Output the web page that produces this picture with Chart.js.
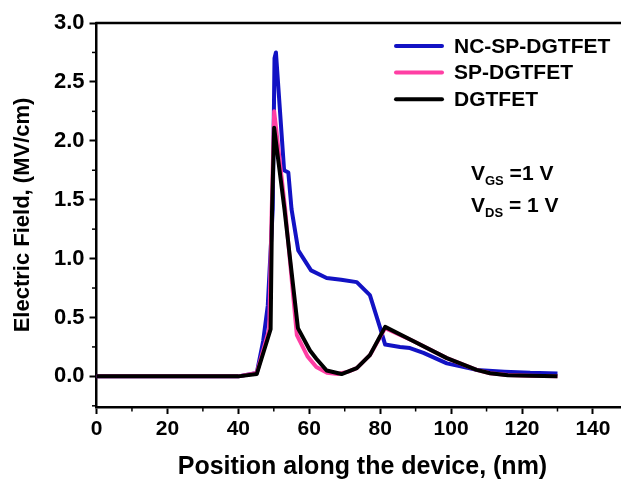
<!DOCTYPE html>
<html>
<head>
<meta charset="utf-8">
<script src="https://cdn.jsdelivr.net/npm/chart.js@4.4.0/dist/chart.umd.min.js"></script>
<style>
  html, body { margin: 0; padding: 0; background: #fff; overflow: hidden; }
  #wrap { width: 660px; height: 482px; }
</style>
</head>
<body>
<div id="wrap"><canvas id="efield" width="660" height="482"></canvas></div>
<script>
// ── Data ──────────────────────────────────────────────────

const NC_X = [0, 40, 45.2, 47.0, 48.3, 49.7, 50.2, 50.6, 52.9, 54.1, 55.0, 56.9, 60.5, 64.9, 69.0, 73.4, 77.1, 79.9, 81.4, 85.6, 88.4, 92.2, 98.8, 107.2, 115, 122.3, 130];
const NC_Y = [0, 0, 0.03, 0.30, 0.60, 1.42, 2.70, 2.75, 1.75, 1.73, 1.42, 1.07, 0.90, 0.835, 0.82, 0.80, 0.69, 0.42, 0.27, 0.25, 0.24, 0.20, 0.11, 0.055, 0.04, 0.03, 0.025];

const SP_X = [0, 40, 45.2, 48.7, 49.4, 50.1, 53.2, 56.5, 59.5, 62.0, 65.0, 68.0, 71.0, 73.4, 77.1, 81.4, 89.3, 98.8, 107.2, 111, 116, 122.3, 130];
const SP_Y = [0, 0, 0.03, 0.40, 1.40, 2.25, 1.42, 0.35, 0.17, 0.08, 0.03, 0.02, 0.04, 0.07, 0.18, 0.41, 0.30, 0.155, 0.055, 0.027, 0.012, 0.006, 0.002];

const DG_X = [0, 40, 45.2, 49.1, 49.5, 50.1, 53.0, 56.8, 60.2, 62.0, 64.9, 69.1, 73.4, 77.1, 81.4, 89.3, 98.8, 107.2, 111, 116, 122.3, 130];
const DG_Y = [0, 0, 0.02, 0.40, 1.40, 2.11, 1.42, 0.41, 0.22, 0.15, 0.05, 0.02, 0.07, 0.18, 0.42, 0.30, 0.155, 0.055, 0.027, 0.01, 0.005, 0.0];

const X_TICKS = [0, 20, 40, 60, 80, 100, 120, 140];
const Y_TICKS = [0, 0.5, 1.0, 1.5, 2.0, 2.5, 3.0];
const X_MINOR = [10, 30, 50, 70, 90, 110, 130, 150];
const Y_MINOR = [-0.25, 0.25, 0.75, 1.25, 1.75, 2.25, 2.75];

const SERIES_NAMES  = ['NC-SP-DGTFET', 'SP-DGTFET', 'DGTFET'];
const SERIES_COLORS = ['#1212c4', '#ff3fa4', '#000000'];

const FONT = "'Liberation Sans', Arial, sans-serif";
const toXY = (xs, ys) => xs.map((x, i) => ({ x, y: ys[i] }));

// ── Frame, minor ticks, legend and bias note ──────────────

const decorPlugin = {
  id: 'decor',
  afterDraw(chart) {
    const { ctx, chartArea: a, scales: { x, y } } = chart;
    ctx.save();
    ctx.strokeStyle = '#000';
    ctx.lineWidth = 2.5;
    ctx.beginPath(); ctx.moveTo(a.left - 1, a.top); ctx.lineTo(a.right, a.top); ctx.stroke();

    ctx.lineWidth = 1.5;
    X_MINOR.forEach(v => {
      const px = x.getPixelForValue(v);
      ctx.beginPath(); ctx.moveTo(px, a.bottom); ctx.lineTo(px, a.bottom + 4.5); ctx.stroke();
    });
    Y_MINOR.forEach(v => {
      const py = y.getPixelForValue(v);
      ctx.beginPath(); ctx.moveTo(a.left, py); ctx.lineTo(a.left - 4.5, py); ctx.stroke();
    });

    // legend
    ctx.font = `bold 21px ${FONT}`;
    ctx.textBaseline = 'middle';
    ctx.fillStyle = '#000';
    SERIES_NAMES.forEach((name, i) => {
      const ly = 46 + i * 26.6;
      ctx.strokeStyle = SERIES_COLORS[i];
      ctx.lineWidth = 4;
      ctx.lineCap = 'round';
      ctx.beginPath(); ctx.moveTo(396, ly); ctx.lineTo(442, ly); ctx.stroke();
      ctx.fillText(name, 454, ly + 1);
    });

    // V_GS / V_DS
    ctx.textBaseline = 'alphabetic';
    const note = (sub, rest, bx, by) => {
      ctx.font = `bold 21px ${FONT}`;
      ctx.fillText('V', bx, by);
      let cx = bx + ctx.measureText('V').width;
      ctx.font = `bold 13px ${FONT}`;
      ctx.fillText(sub, cx, by + 5);
      cx += ctx.measureText(sub).width;
      ctx.font = `bold 21px ${FONT}`;
      ctx.fillText(rest, cx, by);
    };
    note('GS', ' =1 V', 471, 180);
    note('DS', ' = 1 V', 471, 212);
    ctx.restore();
  },
};

// ── Chart ─────────────────────────────────────────────────

function line(xs, ys, i, order) {
  return {
    label: SERIES_NAMES[i],
    data: toXY(xs, ys),
    borderColor: SERIES_COLORS[i],
    backgroundColor: SERIES_COLORS[i],
    borderWidth: 4,
    borderJoinStyle: 'round',
    pointRadius: 0,
    tension: 0,
    order,
  };
}

new Chart(document.getElementById('efield'), {
  type: 'line',
  data: {
    datasets: [
      line(NC_X, NC_Y, 0, 2),
      line(SP_X, SP_Y, 1, 1),
      line(DG_X, DG_Y, 2, 0),
    ],
  },
  plugins: [decorPlugin],
  options: {
    responsive: false,
    animation: false,
    devicePixelRatio: 1,
    layout: { padding: { top: 23, right: 31.6, left: 0, bottom: 0 } },
    plugins: { legend: { display: false }, tooltip: { enabled: false } },
    scales: {
      x: {
        type: 'linear', min: 0, max: 150,
        afterFit: s => { s.height = 75; },
        afterBuildTicks: s => { s.ticks = X_TICKS.map(v => ({ value: v })); },
        border: { color: '#000', width: 2.5 },
        grid: { drawOnChartArea: false, tickLength: 7, tickWidth: 2, tickColor: '#000' },
        ticks: { color: '#000', font: { family: FONT, size: 21, weight: 'bold' }, padding: 3, maxRotation: 0 },
        title: {
          display: true, text: 'Position along the device, (nm)', color: '#000',
          font: { family: FONT, size: 25, weight: 'bold' }, padding: { top: 0, bottom: 0 },
        },
      },
      y: {
        type: 'linear', min: -0.26, max: 3.0,
        afterFit: s => { s.width = 96.5; },
        afterBuildTicks: s => { s.ticks = Y_TICKS.map(v => ({ value: v })); },
        border: { color: '#000', width: 2.5 },
        grid: { drawOnChartArea: false, tickLength: 7, tickWidth: 2, tickColor: '#000' },
        ticks: { color: '#000', font: { family: FONT, size: 22, weight: 'bold' }, padding: 5, callback: v => v.toFixed(1) },
        title: {
          display: true, text: 'Electric Field, (MV/cm)', color: '#000',
          font: { family: FONT, size: 22, weight: 'bold' }, padding: { top: 10, bottom: 0 },
        },
      },
    },
  },
});
</script>
</body>
</html>
